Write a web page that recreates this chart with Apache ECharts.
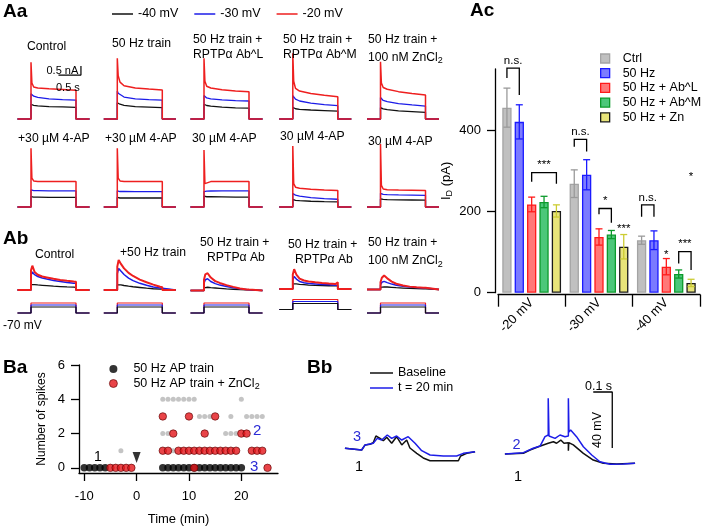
<!DOCTYPE html>
<html><head><meta charset="utf-8">
<script src="https://cdn.jsdelivr.net/npm/echarts@6/dist/echarts.min.js"></script>
<style>html,body{margin:0;padding:0;background:#fff}#c{width:702px;height:526px}</style>
</head><body><div id="c"></div>
<script>
// ================= DATA =================
// ---- Aa: whole-cell currents (nA), sampled at AA_T (s) ----
const AA_T = [-0.3, 0, 0, 0.02, 0.06, 0.15, 0.4, 0.7, 1.0, 1.0, 1.3];
const AA_ROW1_RED = [
  [0,0,3.15,2.0,1.78,1.72,1.68,1.64,1.6,0,0],
  [0,0,3.37,2.4,2.05,1.85,1.72,1.66,1.61,0,0],
  [0,0,3.37,2.1,1.82,1.72,1.62,1.56,1.52,0,0],
  [0,0,3.65,2.1,1.7,1.55,1.42,1.32,1.24,0,0],
  [0,0,3.18,2.0,1.75,1.65,1.52,1.42,1.33,0,0]];
const AA_ROW1_BLUE = [
  [0,0,1.4,1.33,1.27,1.2,1.12,1.08,1.05,0,0],
  [0,0,1.55,1.43,1.33,1.22,1.12,1.08,1.05,0,0],
  [0,0,1.3,1.22,1.17,1.12,1.06,1.02,1.0,0,0],
  [0,0,1.3,1.2,1.1,1.0,0.88,0.8,0.74,0,0],
  [0,0,1.2,1.1,1.03,0.96,0.85,0.78,0.72,0,0]];
const AA_ROW1_BLACK = [
  [0,0,0.82,0.78,0.76,0.73,0.69,0.67,0.65,0,0],
  [0,0,0.9,0.87,0.82,0.76,0.69,0.66,0.63,0,0],
  [0,0,0.82,0.78,0.75,0.71,0.66,0.62,0.6,0,0],
  [0,0,0.65,0.6,0.57,0.54,0.5,0.47,0.44,0,0],
  [0,0,0.63,0.6,0.56,0.52,0.45,0.41,0.37,0,0]];
const AA_ROW2_RED = [
  [0,0,3.26,1.6,1.45,1.42,1.41,1.41,1.41,0,0],
  [0,0,3.26,1.6,1.45,1.42,1.41,1.41,1.41,0,0],
  [0,0,3.17,1.3,1.38,1.41,1.41,1.42,1.42,0,0],
  [0,0,3.39,1.3,1.1,1.04,0.98,0.94,0.91,0,0],
  [0,0,3.5,1.2,1.0,0.96,0.94,0.93,0.92,0,0]];
const AA_ROW2_BLUE = [
  [0,0,0.95,0.92,0.91,0.91,0.9,0.9,0.9,0,0],
  [0,0,0.9,0.87,0.86,0.86,0.85,0.85,0.85,0,0],
  [0,0,0.85,0.86,0.88,0.89,0.9,0.9,0.9,0,0],
  [0,0,0.75,0.7,0.66,0.6,0.52,0.47,0.43,0,0],
  [0,0,0.76,0.72,0.7,0.69,0.67,0.66,0.65,0,0]];
const AA_ROW2_BLACK = [
  [0,0,0.58,0.56,0.55,0.55,0.54,0.54,0.53,0,0],
  [0,0,0.53,0.51,0.5,0.5,0.5,0.5,0.5,0,0],
  [0,0,0.6,0.58,0.57,0.57,0.56,0.55,0.55,0,0],
  [0,0,0.42,0.39,0.37,0.35,0.32,0.3,0.29,0,0],
  [0,0,0.45,0.43,0.42,0.41,0.4,0.39,0.38,0,0]];
const AA_TITLES_ROW1 = [['Control'], ['50 Hz train'], ['50 Hz train +', 'RPTPα Ab^L'], ['50 Hz train +', 'RPTPα Ab^M'], ['50 Hz train +', '100 nM ZnCl{s|2}']];
const AA_TITLES_ROW2 = ['+30 µM 4-AP', '+30 µM 4-AP', '30 µM 4-AP', '30 µM 4-AP', '30 µM 4-AP'];
const AA_LEGEND = ['-40 mV', '-30 mV', '-20 mV'];
const AA_SCALE = {t0: 0.61, i0: 2.44, dt: 0.5, di: 0.5}; // 0.5 s, 0.5 nA

// ---- Ab: currents sampled at AB_T ----
const AB_T = [-0.3, 0, 0, 0.03, 0.08, 0.15, 0.25, 0.35, 0.5, 0.65, 0.8, 0.95, 1.0, 1.0, 1.3];
const AB_RED = [
  [0,0,1.1,1.35,1.0,0.85,0.75,0.7,0.62,0.56,0.51,0.47,0.46,0,0],
  [0,0,1.3,1.67,1.45,1.2,0.95,0.78,0.58,0.43,0.3,0.18,0.15,0,0],
  [0,0,0.6,0.9,0.96,0.72,0.52,0.42,0.3,0.2,0.11,0.06,0.05,0,0],
  [0,0,0.8,1.1,0.8,0.58,0.47,0.42,0.37,0.33,0.3,0.28,0.38,0,0],
  [0,0,0.4,0.65,0.78,0.62,0.44,0.32,0.22,0.16,0.12,0.1,0.1,0,0]];
const AB_BLUE = [
  [0,0,0.8,1.0,0.85,0.75,0.67,0.61,0.53,0.47,0.42,0.38,0.37,0,0],
  [0,0,0.9,1.2,1.05,0.86,0.66,0.52,0.37,0.26,0.17,0.11,0.1,0,0],
  [0,0,0.4,0.6,0.65,0.5,0.38,0.3,0.22,0.15,0.09,0.05,0.04,0,0],
  [0,0,0.5,0.7,0.55,0.42,0.35,0.31,0.28,0.25,0.23,0.21,0.2,0,0],
  [0,0,0.25,0.4,0.45,0.38,0.3,0.24,0.18,0.14,0.11,0.09,0.08,0,0]];
const AB_BLACK = [
  [0,0,0.3,0.31,0.3,0.28,0.26,0.24,0.21,0.19,0.17,0.16,0.15,0,0],
  [0,0,0.28,0.3,0.28,0.25,0.21,0.18,0.14,0.1,0.07,0.05,0.05,0,0],
  [0,0,0.15,0.18,0.18,0.16,0.14,0.12,0.09,0.07,0.05,0.04,0.03,0,0],
  [0,0,0.28,0.3,0.28,0.26,0.24,0.22,0.2,0.19,0.18,0.17,0.17,0,0],
  [0,0,0.12,0.15,0.15,0.14,0.12,0.1,0.08,0.06,0.05,0.04,0.04,0,0]];
const AB_TITLES = [['Control'], ['+50 Hz train'], ['50 Hz train +', 'RPTPα Ab'], ['50 Hz train +', 'RPTPα Ab'], ['50 Hz train +', '100 nM ZnCl{s|2}']];
const CMD_T = [-0.3, 0, 0, 1.0, 1.0, 1.3];
const CMD_HOLD = -70;
const CMD_LEVELS = [-20, -30, -40]; // red, blue, black

// ---- Ac: bar chart ----
const AC_CATS = ['-20 mV', '-30 mV', '-40 mV'];
const AC_NAMES = ['Ctrl', '50 Hz', '50 Hz + Ab^L', '50 Hz + Ab^M', '50 Hz + Zn'];
const AC_CTRL = [455, 268, 129];
const AC_HZ50 = [420, 290, 129];
const AC_ABL = [217, 137, 64];
const AC_ABM = [223, 143, 46];
const AC_ZN = [201, 113, 24];
const AC_CTRL_ERR = [48, 34, 10];
const AC_HZ50_ERR = [42, 37, 23];
const AC_ABL_ERR = [18, 20, 20];
const AC_ABM_ERR = [14, 10, 10];
const AC_ZN_ERR = [15, 30, 9];
const AC_TICKS = [0, 200, 400];
// significance brackets: [category, barA, barB, top, leftLegEnd, rightLegEnd]
const AC_SIG = [[0,0,1,552,528,486],[0,2,4,295,273,268],[1,0,1,377,359,347],[1,2,3,207,193,172],[2,0,1,216,187,187],[2,3,4,101,72,56]];
const AC_SIG_TEXT = ['n.s.', '***', 'n.s.', '*', 'n.s.', '***'];
const AC_STARS = [[1,4,158],[2,2,92],[2,4,286]];
const AC_STARS_TEXT = ['***', '*', '*'];

// ---- Ba: spikes vs time ----
const BA_BLACK_0 = [-10,-9,-8,-7,-6,5,6,7,8,9,10,11,12,13,14,15,16,17,18,19,20];
const BA_RED_0 = [-5,-4,-3,-2,-1,11,25];
const BA_RED_1 = [5,6,8,9,10,11,12,13,14,15,16,17,18,19,22,23,24];
const BA_RED_2 = [7,13,20,21];
const BA_RED_3 = [5,10,15];
const BA_GRAY_1 = [-3,7];
const BA_GRAY_2 = [5,6,17,18,19];
const BA_GRAY_3 = [12,13,14,18,21,22,23,24];
const BA_GRAY_4 = [5,6,7,8,9,10,11,20];
const BA_X_TICKS = [-10, 0, 10, 20];
const BA_Y_TICKS = [0, 2, 4, 6];
const BA_ARROW = [[0, 0.6]];

// ---- Bb: voltage traces [ms, mV] ----
const BB_BASE_L = [[26,-64.5],[114,-65.7],[132,-62.1],[158,-61.6],[175,-60.5],[189,-55.7],[211,-57.4],[228,-59.1],[246,-56.6],[272,-60.9],[298,-56.2],[325,-62.1],[351,-58.6],[368,-64.3],[404,-68.1],[438,-71.4],[474,-73.4],[623,-73.4],[635,-70],[667,-68.1],[711,-66.9]];
const BB_T20_L = [[26,-64.5],[114,-65.7],[132,-62.1],[175,-60.9],[196,-57.4],[219,-58.6],[249,-55],[272,-57.4],[298,-55.7],[325,-58.6],[359,-56.2],[395,-60.9],[430,-66.2],[474,-69.3],[544,-70],[614,-70],[649,-68.1],[711,-66.9]];
const BB_BASE_R = [[868,-68.6],[965,-68.1],[1000,-65.7],[1044,-63.4],[1070,-62.1],[1096,-60.9],[1123,-59.8],[1140,-60.9],[1162,-58.6],[1179,-60.9],[1202,-60.5],[1202,-66.2],[1204,-60.5],[1228,-62.1],[1281,-68.1],[1333,-72.9],[1386,-75.2],[1456,-75.7],[1553,-75.2]];
const BB_T20_R = [[868,-68.6],[965,-67.6],[1017,-64.5],[1053,-62.9],[1079,-56.2],[1096,-55],[1096,-28.8],[1100,-55.7],[1132,-57.4],[1158,-55],[1184,-56.2],[1202,-55.7],[1202,-28.8],[1205,-52.9],[1214,-51.4],[1245,-56.2],[1281,-63.4],[1325,-69.3],[1368,-74.1],[1421,-75.9],[1491,-75.7],[1553,-75.2]];
const BB_SCALE = {t0: 1333, v0: -24.3, dt: 100, dv: 40}; // 0.1 s, 40 mV

// ================= STYLE / LAYOUT =================
const FAM = '"Liberation Sans", Arial, sans-serif';
const F = (s, b) => (b ? 'bold ' : '') + s + 'px ' + FAM;
const C_K = '#111111', C_B = '#1c1ce8', C_R = '#ee1f1f', C_BLUE_TXT = '#2b2bd6';
const STEP_X = [31, 117.3, 204, 292.8, 380.5];
const PX_S = 45, PX_NA = 18;
const AA_BASE_Y = [119, 207];
const AB_BASE_Y = [290, 290, 290.5, 289, 289.5];
const CMD_TOP = [302, 302, 302, 298.5, 302];
const AC_FILL = ['#c0c0c0', '#7b7bff', '#ff7878', '#4cc77a', '#e8e47a'];
const AC_BORDER = ['#a4a4a4', '#1a1aff', '#ff1a1a', '#0c9a2c', '#1a1a1a'];
const AC_ERRC = ['#9a9a9a', '#1a1aff', '#ff1a1a', '#0c9a2c', '#cccc33'];
const BAR_W = 9.3, BAR_GAP = 0.33, PITCH = BAR_W * (1 + BAR_GAP);
const TITLE_FS = 12.2;

const grids = [], xAxes = [], yAxes = [], series = [], texts = [];
function addGrid(g, xa, ya) {
  const i = grids.length;
  grids.push(Object.assign({outerBoundsMode: 'none', containLabel: false}, g));
  xAxes.push(Object.assign({gridIndex: i, type: 'value', show: false}, xa));
  yAxes.push(Object.assign({gridIndex: i, type: 'value', show: false}, ya));
  return i;
}
function traceGrid(stepX, baseY, yMin, yMax) {
  return addGrid({left: stepX - 0.3 * PX_S, width: 1.6 * PX_S, top: baseY - yMax * PX_NA, height: (yMax - yMin) * PX_NA},
    {min: -0.3, max: 1.3}, {min: yMin, max: yMax});
}
function line(name, gi, pts, color, width, z) {
  series.push({type: 'line', name, xAxisIndex: gi, yAxisIndex: gi, data: pts, symbol: 'none', showSymbol: false,
    color, itemStyle: {color}, lineStyle: {color, width}, z: z || 2, silent: true, animation: false, clip: false});
}
const zip = (xs, ys) => xs.map((x, k) => [x, ys[k]]);
const RICH = {s: {fontSize: 9, fontFamily: 'Liberation Sans', padding: [7, 0, 0, 0]}};
function T(x, y, text, o, elem) {
  texts.push(Object.assign({type: 'text', x, y, silent: true, z: 100,
    style: Object.assign({text, fill: '#000', font: F(TITLE_FS), align: 'left', verticalAlign: 'middle', rich: RICH}, o || {})}, elem || {}));
}

// ---- Aa ----
const AA_ROWS = [[AA_ROW1_BLACK, AA_ROW1_BLUE, AA_ROW1_RED], [AA_ROW2_BLACK, AA_ROW2_BLUE, AA_ROW2_RED]];
AA_ROWS.forEach((row, r) => {
  for (let p = 0; p < 5; p++) {
    const gi = traceGrid(STEP_X[p], AA_BASE_Y[r], -0.3, 3.6);
    line(AA_LEGEND[0], gi, zip(AA_T, row[0][p]), C_K, 1.3, 2);
    line(AA_LEGEND[1], gi, zip(AA_T, row[1][p]), C_B, 1.3, 3);
    line(AA_LEGEND[2], gi, zip(AA_T, row[2][p]), C_R, 1.5, 4);
    if (r === 0 && p === 0) {
      const s = AA_SCALE;
      line('scale', gi, [[s.t0, s.i0], [s.t0 + s.dt, s.i0], [s.t0 + s.dt, s.i0 + s.di]], '#000', 1.2, 5);
    }
  }
});
const AA_T1_X = [27, 112, 193, 283, 368];
AA_TITLES_ROW1.forEach((t, p) => {
  if (t.length === 1) T(AA_T1_X[p], p === 0 ? 47 : 43.5, t[0]);
  else { T(AA_T1_X[p], 39.5, t[0]); T(AA_T1_X[p], 54.5 + (t[1].indexOf('{s|') >= 0 ? 3 : 0), t[1]); }
});
const AA_T2_X = [18, 105, 192, 280, 368], AA_T2_Y = [139, 139, 139, 137, 142];
AA_TITLES_ROW2.forEach((t, p) => T(AA_T2_X[p], AA_T2_Y[p], t));
T(46.5, 71, '0.5 nA', {font: F(11)});
T(56, 87.5, '0.5 s', {font: F(11)});

// ---- Ab ----
for (let p = 0; p < 5; p++) {
  const gi = traceGrid(STEP_X[p], AB_BASE_Y[p], -0.3, 1.9);
  line(AA_LEGEND[0], gi, zip(AB_T, AB_BLACK[p]), C_K, 1.3, 2);
  line(AA_LEGEND[1], gi, zip(AB_T, AB_BLUE[p]), C_B, 1.5, 3);
  line(AA_LEGEND[2], gi, zip(AB_T, AB_RED[p]), C_R, 2, 4);
  const ci = addGrid({left: STEP_X[p] - 0.3 * PX_S, width: 1.6 * PX_S, top: CMD_TOP[p], height: 12},
    {min: -0.3, max: 1.3}, {min: -75, max: -15});
  const cmdColors = [C_R, C_B, C_K];
  CMD_LEVELS.forEach((lv, k) => {
    const vals = [CMD_HOLD, CMD_HOLD, lv, lv, CMD_HOLD, CMD_HOLD];
    line(AA_LEGEND[2 - k], ci, zip(CMD_T, vals), cmdColors[k], 1.2, 2 + k);
  });
}
const AB_T_X = [[35], [120], [200, 207], [288, 295], [368, 368]];
const AB_T_Y = [[255], [253], [243, 258], [245, 260], [243, 261]];
AB_TITLES.forEach((t, p) => t.forEach((s, k) => T(AB_T_X[p][k], AB_T_Y[p][k], s)));
T(3, 326, '-70 mV', {font: F(12)});

// ---- Ac ----
const acVals = [AC_CTRL, AC_HZ50, AC_ABL, AC_ABM, AC_ZN];
const acErrs = [AC_CTRL_ERR, AC_HZ50_ERR, AC_ABL_ERR, AC_ABM_ERR, AC_ZN_ERR];
const ac = addGrid({left: 498, top: 69, width: 202, height: 223.7}, {
  type: 'category', data: AC_CATS, show: true, offset: 2,
  axisLine: {show: true, onZero: false, lineStyle: {color: '#000', width: 1.3}},
  axisTick: {show: true, length: 12, lineStyle: {color: '#000', width: 1.3}},
  axisLabel: {rotate: 45, fontSize: 13, margin: 6, color: '#000', fontFamily: FAM},
  splitLine: {show: false}
}, {
  min: 0, max: 550, show: true, offset: 3,
  axisLine: {show: true, lineStyle: {color: '#000', width: 1.3}},
  axisTick: {show: true, customValues: AC_TICKS, length: 8, lineStyle: {color: '#000', width: 1.3}},
  axisLabel: {customValues: AC_TICKS, fontSize: 13, margin: 14, color: '#000', fontFamily: FAM},
  splitLine: {show: false},
  name: '{a|I}{b|D}{a| (pA)}', nameLocation: 'middle', nameGap: 41,
  nameTextStyle: {color: '#000', rich: {a: {fontSize: 13, fontFamily: FAM, color: '#000'}, b: {fontSize: 9, fontFamily: FAM, color: '#000', padding: [7, 0, 0, 0]}}}
});
AC_NAMES.forEach((n, k) => series.push({type: 'bar', name: n, xAxisIndex: ac, yAxisIndex: ac, data: acVals[k],
  barWidth: BAR_W, barGap: (BAR_GAP * 100) + '%', silent: true, z: 2,
  itemStyle: {color: AC_FILL[k], borderColor: AC_BORDER[k], borderWidth: 1.3}}));
const errData = [];
acVals.forEach((vals, k) => vals.forEach((v, c) => errData.push([c, k, v, acErrs[k][c]])));
series.push({type: 'custom', xAxisIndex: ac, yAxisIndex: ac, data: errData, encode: {x: 0, y: 2}, z: 5, silent: true, clip: false,
  renderItem: (params, api) => {
    const c = api.value(0), k = api.value(1), v = api.value(2), e = api.value(3);
    const x = api.coord([c, 0])[0] + (k - 2) * PITCH;
    const yt = api.coord([c, v + e])[1], yb = api.coord([c, v - e])[1];
    const st = {stroke: AC_ERRC[k], lineWidth: 1.3};
    return {type: 'group', children: [
      {type: 'line', shape: {x1: x, y1: yt, x2: x, y2: yb}, style: st},
      {type: 'line', shape: {x1: x - 3.5, y1: yt, x2: x + 3.5, y2: yt}, style: st},
      {type: 'line', shape: {x1: x - 3.5, y1: yb, x2: x + 3.5, y2: yb}, style: st}]};
  }});
series.push({type: 'custom', xAxisIndex: ac, yAxisIndex: ac, data: AC_SIG, encode: {x: 0, y: 3}, z: 6, silent: true, clip: false,
  renderItem: (params, api) => {
    const c = api.value(0), a = api.value(1), b = api.value(2);
    const base = api.coord([c, 0])[0];
    const xa = base + (a - 2) * PITCH, xb = base + (b - 2) * PITCH;
    const yt = api.coord([c, api.value(3)])[1], yl = api.coord([c, api.value(4)])[1], yr = api.coord([c, api.value(5)])[1];
    return {type: 'group', children: [
      {type: 'polyline', shape: {points: [[xa, yl], [xa, yt], [xb, yt], [xb, yr]]}, style: {stroke: '#000', lineWidth: 1.3, fill: null}},
      {type: 'text', x: (xa + xb) / 2, y: yt - 1.5, style: {text: AC_SIG_TEXT[params.dataIndex], align: 'center', verticalAlign: 'bottom', font: F(11.5), fill: '#000'}}]};
  }});
series.push({type: 'custom', xAxisIndex: ac, yAxisIndex: ac, data: AC_STARS, encode: {x: 0, y: 2}, z: 6, silent: true, clip: false,
  renderItem: (params, api) => {
    const c = api.value(0), k = api.value(1);
    const x = api.coord([c, 0])[0] + (k - 2) * PITCH, y = api.coord([c, api.value(2)])[1];
    return {type: 'text', x, y, style: {text: AC_STARS_TEXT[params.dataIndex], align: 'center', verticalAlign: 'middle', font: F(11.5), fill: '#000'}};
  }});

// ---- Ba ----
const ba = addGrid({left: 79, top: 365, width: 199, height: 108}, {
  min: -11, max: 27, show: true,
  axisLine: {show: true, onZero: false, lineStyle: {color: '#000', width: 1.3}},
  axisTick: {show: true, customValues: BA_X_TICKS, length: 8, lineStyle: {color: '#000', width: 1.3}},
  axisLabel: {customValues: BA_X_TICKS, fontSize: 13, margin: 17, color: '#000', fontFamily: FAM},
  splitLine: {show: false},
  name: 'Time (min)', nameLocation: 'middle', nameGap: 40, nameTextStyle: {fontSize: 13, color: '#000', fontFamily: FAM}
}, {
  min: -0.3, max: 6, show: true,
  axisLine: {show: true, onZero: false, lineStyle: {color: '#000', width: 1.3}},
  axisTick: {show: true, customValues: BA_Y_TICKS, length: 8, lineStyle: {color: '#000', width: 1.3}},
  axisLabel: {customValues: BA_Y_TICKS, fontSize: 13, margin: 14, color: '#000', fontFamily: FAM},
  splitLine: {show: false},
  name: 'Number of spikes', nameLocation: 'middle', nameGap: 31, nameTextStyle: {fontSize: 12, color: '#000', fontFamily: FAM}
});
const lvl = (ts, y) => ts.map(t => [t, y]);
series.push({type: 'scatter', name: 'other', xAxisIndex: ba, yAxisIndex: ba, symbolSize: 5, z: 2, silent: true,
  itemStyle: {color: '#b5b5b5'},
  data: [].concat(lvl(BA_GRAY_1, 1), lvl(BA_GRAY_2, 2), lvl(BA_GRAY_3, 3), lvl(BA_GRAY_4, 4))});
series.push({type: 'scatter', name: '50 Hz AP train', xAxisIndex: ba, yAxisIndex: ba, symbolSize: 7.5, z: 3, silent: true,
  itemStyle: {color: '#000'}, data: lvl(BA_BLACK_0, 0)});
series.push({type: 'scatter', name: '50 Hz AP train + ZnCl2', xAxisIndex: ba, yAxisIndex: ba, symbolSize: 7.5, z: 4, silent: true,
  itemStyle: {color: '#e3151a', borderColor: '#5a0000', borderWidth: 0.8},
  data: [].concat(lvl(BA_RED_0, 0), lvl(BA_RED_1, 1), lvl(BA_RED_2, 2), lvl(BA_RED_3, 3))});
series.push({type: 'scatter', name: 'arrow', xAxisIndex: ba, yAxisIndex: ba, symbol: 'triangle', symbolRotate: 180, symbolSize: [8, 11],
  z: 5, silent: true, itemStyle: {color: '#000'}, data: BA_ARROW});
T(94, 456.7, '1', {font: F(14)});
T(253, 430.5, '2', {font: F(15), fill: C_BLUE_TXT});
T(250, 467, '3', {font: F(15), fill: C_BLUE_TXT});

// ---- Bb ----
const bb = addGrid({left: 340, top: 388.8, width: 300, height: 92.4}, {min: 0, max: 1579}, {min: -88, max: -22});
line('Baseline', bb, BB_BASE_L, C_K, 1.5, 2);
line('Baseline', bb, BB_BASE_R, C_K, 1.5, 2);
line('t = 20 min', bb, BB_T20_L, C_B, 1.5, 3);
line('t = 20 min', bb, BB_T20_R, C_B, 1.5, 3);
{
  const s = BB_SCALE;
  line('scale', bb, [[s.t0, s.v0], [s.t0 + s.dt, s.v0], [s.t0 + s.dt, s.v0 - s.dv]], '#000', 1.3, 4);
}
T(585, 386.5, '0.1 s', {font: F(12.5)});
T(598, 430, '40 mV', {font: F(12.5), align: 'center'}, {rotation: Math.PI / 2});
T(353, 436.7, '3', {font: F(14.5), fill: C_BLUE_TXT});
T(355, 467, '1', {font: F(14.5)});
T(512.5, 445, '2', {font: F(14.5), fill: C_BLUE_TXT});
T(514, 476.5, '1', {font: F(14.5)});

// panel letters
T(3, 12, 'Aa', {font: F(19, true)});
T(3, 239, 'Ab', {font: F(19, true)});
T(470, 11, 'Ac', {font: F(19, true)});
T(3, 368, 'Ba', {font: F(19, true)});
T(307, 368, 'Bb', {font: F(19, true)});

// ---- legends ----
const legends = [
  {data: [{name: AA_LEGEND[0], itemStyle: {color: C_K}}, {name: AA_LEGEND[1], itemStyle: {color: C_B}}, {name: AA_LEGEND[2], itemStyle: {color: C_R}}],
   left: 112, top: 7.5, padding: 0, icon: 'rect', itemWidth: 21, itemHeight: 1.5, itemGap: 16, selectedMode: false,
   textStyle: {fontSize: 12.5, color: '#000', fontFamily: FAM}},
  {data: AC_NAMES.map((n, k) => ({name: n, itemStyle: {color: AC_FILL[k], borderColor: AC_BORDER[k], borderWidth: 1.3}})),
   orient: 'vertical', left: 600, top: 52, padding: 0, icon: 'rect', itemWidth: 9, itemHeight: 9, itemGap: 1.7, selectedMode: false,
   textStyle: {fontSize: 12.5, color: '#000', fontFamily: FAM, padding: [0, 0, 0, 8]}},
  {data: [{name: '50 Hz AP train', itemStyle: {color: '#000'}}, {name: '50 Hz AP train + ZnCl2', itemStyle: {color: '#e3151a', borderColor: '#5a0000', borderWidth: 0.8}}],
   orient: 'vertical', left: 109, top: 362.5, padding: 0, icon: 'circle', itemWidth: 8, itemHeight: 8, itemGap: 1.5, selectedMode: false,
   formatter: n => n === '50 Hz AP train + ZnCl2' ? '50 Hz AP train + ZnCl{s|2}' : n,
   textStyle: {fontSize: 12.5, color: '#000', fontFamily: FAM, padding: [0, 0, 0, 11], rich: {s: {fontSize: 9, fontFamily: FAM, padding: [7, 0, 0, 0]}}}},
  {data: [{name: 'Baseline', itemStyle: {color: C_K}}, {name: 't = 20 min', itemStyle: {color: C_B}}],
   orient: 'vertical', left: 370, top: 366.5, padding: 0, icon: 'rect', itemWidth: 23, itemHeight: 1.5, itemGap: 2, selectedMode: false,
   textStyle: {fontSize: 12.5, color: '#000', fontFamily: FAM}}
];

const chart = echarts.init(document.getElementById('c'), null, {renderer: 'canvas'});
chart.setOption({
  animation: false,
  backgroundColor: '#fff',
  textStyle: {fontFamily: FAM, color: '#000'},
  grid: grids, xAxis: xAxes, yAxis: yAxes, series, legend: legends, graphic: texts
});
</script></body></html>
